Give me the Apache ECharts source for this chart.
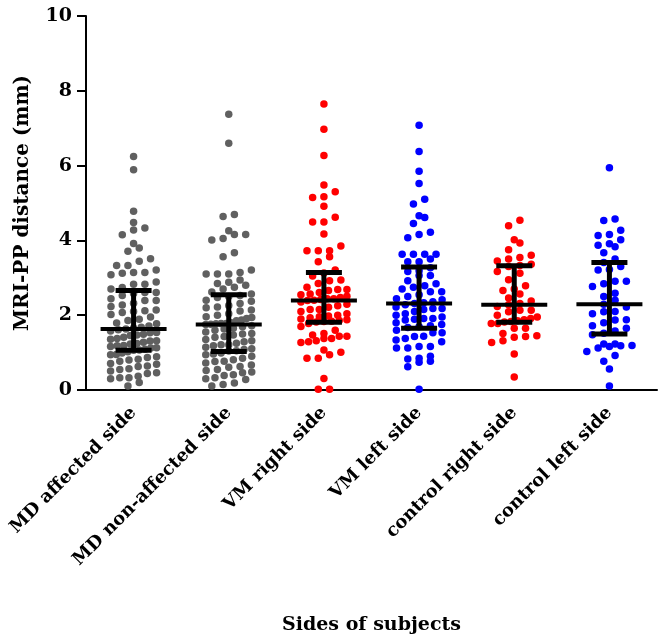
<!DOCTYPE html>
<html>
<head>
<meta charset="utf-8">
<script src="https://cdn.jsdelivr.net/npm/echarts@6/dist/echarts.min.js"></script>
<style>html,body{margin:0;padding:0;background:#fff}#c{width:661px;height:640px}</style>
</head>
<body>
<div id="c"></div>
<script>
const categories = ['MD affected side', 'MD non-affected side', 'VM right side', 'VM left side', 'control right side', 'control left side'];

const mdAffected = [6.24, 5.89, 4.78, 4.48, 4.33, 4.28, 4.15, 3.92, 3.80, 3.71, 3.51, 3.44, 3.33, 3.33, 3.21, 3.14, 3.14, 3.12, 3.08, 2.89, 2.83, 2.83, 2.74, 2.70,
  2.61, 2.61, 2.58, 2.53, 2.44, 2.39, 2.39, 2.32, 2.27, 2.23, 2.14, 2.12, 2.10, 2.07, 2.02, 1.95, 1.89, 1.86, 1.79, 1.77, 1.71, 1.68, 1.66,
  1.63,
  1.61, 1.58, 1.54, 1.53, 1.49, 1.47, 1.46, 1.41, 1.38, 1.36, 1.32, 1.31, 1.28, 1.24, 1.23, 1.19, 1.18, 1.16, 1.13, 1.12, 1.09, 1.07, 1.06,
  1.02, 0.99, 0.95, 0.94, 0.89, 0.87, 0.82, 0.80, 0.77, 0.71, 0.69, 0.64, 0.63, 0.57, 0.55, 0.51, 0.46, 0.44, 0.37, 0.33, 0.33, 0.30, 0.20, 0.11];
const mdNonAffected = [7.37, 6.60, 4.69, 4.64, 4.26, 4.16, 4.16, 4.05, 4.01, 3.67, 3.56, 3.21, 3.14, 3.10, 3.10, 3.10, 2.94, 2.88, 2.85, 2.80, 2.75, 2.70, 2.62, 2.57,
  2.53, 2.50, 2.47, 2.40, 2.37, 2.31, 2.26, 2.22, 2.20, 2.14, 2.11, 2.04, 2.00, 1.96, 1.94, 1.91, 1.87, 1.85, 1.80, 1.78, 1.78, 1.77, 1.76,
  1.75,
  1.72, 1.69, 1.65, 1.63, 1.60, 1.55, 1.51, 1.50, 1.47, 1.43, 1.41, 1.35, 1.32, 1.29, 1.25, 1.21, 1.21, 1.18, 1.14, 1.10, 1.08, 1.05, 1.04,
  0.99, 0.96, 0.94, 0.90, 0.85, 0.81, 0.77, 0.76, 0.72, 0.67, 0.63, 0.61, 0.55, 0.52, 0.48, 0.46, 0.41, 0.39, 0.33, 0.30, 0.28, 0.19, 0.15, 0.11];
const vmRight = [7.65, 6.97, 6.27, 5.48, 5.30, 5.17, 5.15, 4.91, 4.62, 4.49, 4.49, 4.17, 3.85, 3.72, 3.72, 3.72, 3.56, 3.43, 3.21,
  3.13, 3.05, 2.94, 2.92, 2.85, 2.75, 2.69, 2.69, 2.66, 2.61, 2.57, 2.55, 2.51, 2.47, 2.44, 2.44, 2.42, 2.40,
  2.39,
  2.35, 2.29, 2.25, 2.21, 2.15, 2.15, 2.10, 2.04, 2.00, 1.98, 1.96, 1.93, 1.90, 1.88, 1.86, 1.84, 1.83, 1.82,
  1.78, 1.70, 1.60, 1.51, 1.47, 1.44, 1.44, 1.38, 1.38, 1.32, 1.29, 1.27, 1.07, 1.01, 0.94, 0.85, 0.85, 0.31, 0.02, 0.02];
const vmLeft = [7.08, 6.38, 5.85, 5.52, 5.10, 4.97, 4.66, 4.61, 4.45, 4.22, 4.16, 4.07, 3.63, 3.63, 3.63, 3.63, 3.50, 3.43, 3.43,
  3.27, 3.19, 3.17, 3.06, 3.06, 2.92, 2.84, 2.79, 2.75, 2.70, 2.63, 2.63, 2.55, 2.50, 2.44, 2.41, 2.36, 2.33,
  2.31,
  2.28, 2.22, 2.18, 2.18, 2.15, 2.10, 2.04, 2.00, 1.95, 1.91, 1.91, 1.89, 1.87, 1.80, 1.75, 1.72, 1.69, 1.67,
  1.60, 1.53, 1.53, 1.44, 1.43, 1.38, 1.34, 1.29, 1.16, 1.16, 1.12, 1.12, 0.90, 0.85, 0.83, 0.77, 0.74, 0.62, 0.02];
const controlRight = [4.54, 4.39, 4.02, 3.93, 3.75, 3.60, 3.54, 3.50, 3.45, 3.36, 3.33,
  3.30, 3.17, 3.12, 2.95, 2.79, 2.70, 2.66, 2.57, 2.46, 2.38, 2.31,
  2.28,
  2.23, 2.13, 2.13, 2.09, 2.00, 1.95, 1.91, 1.88, 1.85, 1.83, 1.82,
  1.78, 1.78, 1.65, 1.65, 1.51, 1.45, 1.43, 1.41, 1.32, 1.27, 0.96, 0.35];
const controlLeft = [5.94, 4.57, 4.53, 4.27, 4.16, 4.13, 4.02, 3.91, 3.87, 3.83, 3.67, 3.50,
  3.41, 3.30, 3.22, 3.21, 2.91, 2.91, 2.84, 2.77, 2.59, 2.50, 2.40,
  2.29,
  2.22, 2.10, 2.09, 2.04, 1.88, 1.87, 1.80, 1.72, 1.65, 1.58, 1.52,
  1.48, 1.23, 1.23, 1.19, 1.18, 1.16, 1.12, 1.03, 0.92, 0.77, 0.56, 0.11];

const groups = [mdAffected, mdNonAffected, vmRight, vmLeft, controlRight, controlLeft];
const medians = [1.63, 1.75, 2.39, 2.31, 2.28, 2.29];
const q1Values = [1.06, 1.03, 1.81, 1.65, 1.81, 1.50];
const q3Values = [2.66, 2.55, 3.14, 3.29, 3.32, 3.41];
const yTicks = [0, 2, 4, 6, 8, 10];

const colors = ['#606060', '#606060', '#ff0000', '#0000ff', '#ff0000', '#0000ff'];
const FONT = 'DejaVu Serif';
const GRID = { left: 86, right: 4, top: 16, bottom: 246 };
const BAND_PX = (661 - GRID.left - GRID.right) / categories.length;
const COL_PX = 11.3, MAX_HALF_PX = 23, BIN = 0.19;

function swarm(vals, idx) {
  const sorted = vals.slice().sort((a, b) => a - b);
  const out = [];
  let bin = [], start = null;
  const flush = () => {
    const n = bin.length;
    const step = n > 1 ? Math.min(COL_PX, 2 * MAX_HALF_PX / (n - 1)) : 0;
    bin.forEach((v, i) => out.push([idx + ((i - (n - 1) / 2) * step) / BAND_PX, v]));
    bin = [];
  };
  for (const v of sorted) {
    if (start === null || v - start >= BIN) { if (bin.length) flush(); start = v; }
    bin.push(v);
  }
  if (bin.length) flush();
  return out;
}

const scatterSeries = groups.map((g, i) => ({
  type: 'scatter', xAxisIndex: 1, yAxisIndex: 0,
  symbol: 'circle', symbolSize: 7.5,
  itemStyle: { color: colors[i], opacity: 1 },
  data: swarm(g, i), z: 2
}));

const barData = categories.map((c, i) => [i, q1Values[i], medians[i], q3Values[i]]);
const errSeries = {
  type: 'custom', xAxisIndex: 0, yAxisIndex: 0, z: 5,
  encode: { x: 0, y: [1, 2, 3] },
  data: barData,
  renderItem: function (params, api) {
    const x = api.value(0);
    const p1 = api.coord([x, api.value(1)]);
    const pm = api.coord([x, api.value(2)]);
    const p3 = api.coord([x, api.value(3)]);
    const ln = (x1, y1, x2, y2, w) => ({ type: 'line', shape: { x1, y1, x2, y2 }, style: { stroke: '#000', lineWidth: w, lineCap: 'butt' } });
    return { type: 'group', children: [
      ln(pm[0] - 33, pm[1], pm[0] + 33, pm[1], 4),
      ln(p3[0], p3[1], p1[0], p1[1], 5),
      ln(p3[0] - 18, p3[1], p3[0] + 18, p3[1], 5),
      ln(p1[0] - 18, p1[1], p1[0] + 18, p1[1], 5)
    ] };
  }
};

const chart = echarts.init(document.getElementById('c'), null, { renderer: 'canvas' });
chart.setOption({
  animation: false,
  backgroundColor: '#fff',
  grid: GRID,
  xAxis: [{
    type: 'category', data: categories, boundaryGap: true,
    axisLine: { onZero: false, lineStyle: { color: '#000', width: 2 } },
    axisTick: { alignWithLabel: true, length: 9, lineStyle: { color: '#000', width: 2 } },
    axisLabel: { rotate: 45, margin: 20, color: '#000', fontFamily: FONT, fontWeight: 'bold', fontSize: 18, interval: 0 },
    name: 'Sides of subjects', nameLocation: 'middle', nameGap: 226,
    nameTextStyle: { color: '#000', fontFamily: FONT, fontWeight: 'bold', fontSize: 19 }
  }, {
    type: 'value', min: -0.5, max: 5.5, show: false
  }],
  yAxis: [{
    type: 'value', min: yTicks[0], max: yTicks[yTicks.length - 1], interval: 2,
    splitLine: { show: false },
    axisLine: { show: true, onZero: false, lineStyle: { color: '#000', width: 2 } },
    axisTick: { show: true, length: 9, lineStyle: { color: '#000', width: 2 } },
    axisLabel: { margin: 14, color: '#000', fontFamily: FONT, fontWeight: 'bold', fontSize: 19 },
    name: 'MRI-PP distance (mm)', nameLocation: 'middle', nameGap: 53,
    nameTextStyle: { color: '#000', fontFamily: FONT, fontWeight: 'bold', fontSize: 20 }
  }],
  series: scatterSeries.concat([errSeries])
});
</script>
</body>
</html>
